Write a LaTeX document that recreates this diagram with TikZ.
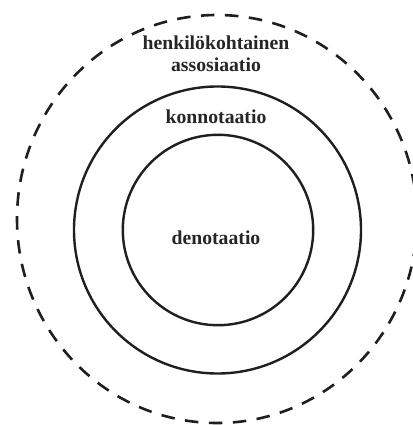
\documentclass[tikz,border=0pt]{standalone}
\usepackage{fontspec}
\setmainfont{Liberation Serif}
\begin{document}
\begin{tikzpicture}[x=1pt,y=-1pt,
  lbl/.style={anchor=base,inner sep=0pt,font=\bfseries\fontsize{19.7}{22}\selectfont,text=black!85},
  ring/.style={line width=2.4pt,draw=black!88},
  outerring/.style={line width=2.6pt,draw=black!88,dash pattern=on 13.5pt off 10.5pt}]
\useasboundingbox[fill=white] (0,0) rectangle (412,425);
\draw[outerring] (217,219) ellipse [x radius=200, y radius=204];
\draw[ring] (217.5,230) circle [radius=143.5];
\draw[ring] (218,230) circle [radius=95.2];
\node[lbl] (h1) at (216,49.3) {henkilökohtainen};
\node[lbl] (h2) at (216,71.7) {assosiaatio};
\node[lbl] (k) at (216,124) {konnotaatio};
\node[lbl] (d) at (216,244) {denotaatio};
\end{tikzpicture}
\end{document}
